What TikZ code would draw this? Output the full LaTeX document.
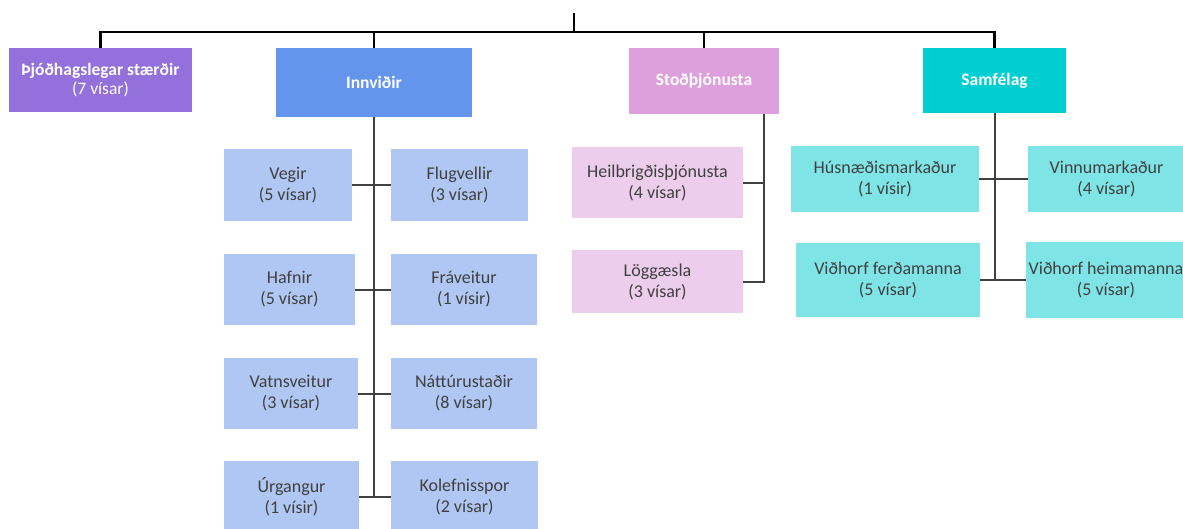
\documentclass[tikz,border=0pt]{standalone}
\usepackage{fontspec}
\setmainfont{Carlito}
\definecolor{cthj}{HTML}{9370DB}
\definecolor{cinn}{HTML}{6495ED}
\definecolor{csto}{HTML}{DDA0DD}
\definecolor{csam}{HTML}{00CED1}
\definecolor{linn}{HTML}{AFC7F2}
\definecolor{lsto}{HTML}{EDCDEC}
\definecolor{lsam}{HTML}{7FE4E6}
\definecolor{txt}{HTML}{404040}
\definecolor{lin}{HTML}{404040}
\tikzset{
  topbox/.style={draw=none, inner sep=0pt, align=center, text=white, font=\fontsize{17.5}{19}\selectfont},
  subbox/.style={draw=none, inner sep=0pt, align=center, text=txt, font=\fontsize{18}{21}\selectfont},
  topline/.style={line width=2.5pt, draw=black},
  subline/.style={line width=2pt, draw=lin}
}
\begin{document}
\begin{tikzpicture}[x=1pt,y=-1pt]
\useasboundingbox (0,0) rectangle (1183,528);
% top level
\coordinate (root) at (574,13);
\node[topbox, fill=cthj, minimum width=183, minimum height=64] (thj) at (100.5,80) {\textbf{Þjóðhagslegar stærðir}\\(7 vísar)};
\node[topbox, fill=cinn, minimum width=196, minimum height=69] (inn) at (374,82.5) {\textbf{Innviðir}};
\node[topbox, fill=csto, minimum width=150, minimum height=66] (sto) at (704,81) {\textbf{Stoðþjónusta}};
\node[topbox, fill=csam, minimum width=143, minimum height=65] (sam) at (994.5,80.5) {\textbf{Samfélag}};
\coordinate (bar) at (574,32);
\draw[topline] (root) -- (bar);
\draw[topline] (thj.north) -- (thj.north |- bar) -- (sam.north |- bar) -- (sam.north);
\draw[topline] (inn.north) -- (inn.north |- bar);
\draw[topline] (sto.north) -- (sto.north |- bar);
% Innvidir
\node[subbox, fill=linn, minimum width=128, minimum height=72] (veg) at (288,185) {Vegir\\(5 vísar)};
\node[subbox, fill=linn, minimum width=137, minimum height=72] (flu) at (459.5,185) {Flugvellir\\(3 vísar)};
\node[subbox, fill=linn, minimum width=131, minimum height=71] (haf) at (289.5,289.5) {Hafnir\\(5 vísar)};
\node[subbox, fill=linn, minimum width=146, minimum height=71] (fra) at (464,289.5) {Fráveitur\\(1 vísir)};
\node[subbox, fill=linn, minimum width=134, minimum height=71] (vat) at (291,393.5) {Vatnsveitur\\(3 vísar)};
\node[subbox, fill=linn, minimum width=146, minimum height=71] (nat) at (464,393.5) {Náttúrustaðir\\(8 vísar)};
\node[subbox, fill=linn, minimum width=135, minimum height=71] (urg) at (291.5,496.5) {Úrgangur\\(1 vísir)};
\node[subbox, fill=linn, minimum width=147, minimum height=71] (kol) at (464.5,496.5) {Kolefnisspor\\(2 vísar)};
\draw[subline] (inn.south) -- (inn.south |- urg.east);
\draw[subline] (veg.east) -- (flu.west);
\draw[subline] (haf.east) -- (fra.west);
\draw[subline] (vat.east) -- (nat.west);
\draw[subline] (urg.east) -- (kol.west);
% Stodthjonusta
\node[subbox, fill=lsto, minimum width=171, minimum height=71] (hei) at (657.5,182.5) {Heilbrigðisþjónusta\\(4 vísar)};
\node[subbox, fill=lsto, minimum width=171, minimum height=63] (log) at (657.5,281.5) {Löggæsla\\(3 vísar)};
\coordinate (stoc) at ([xshift=-15pt]sto.south east);
\draw[subline] (stoc) -- (stoc |- log.east) -- (log.east);
\draw[subline] (hei.east) -- (stoc |- hei.east);
% Samfelag
\node[subbox, fill=lsam, minimum width=188, minimum height=66] (hus) at (885,179) {Húsnæðismarkaður\\(1 vísir)};
\node[subbox, fill=lsam, minimum width=157, minimum height=66] (vin) at (1106.5,179) {Vinnumarkaður\\(4 vísar)};
\node[subbox, fill=lsam, minimum width=184, minimum height=74] (fer) at (888,280) {Viðhorf ferðamanna\\(5 vísar)};
\node[subbox, fill=lsam, minimum width=160, minimum height=76] (hem) at (1106,280) {Viðhorf heimamanna\\(5 vísar)};
\draw[subline] (sam.south) -- (sam.south |- fer.east);
\draw[subline] (hus.east) -- (vin.west);
\draw[subline] (fer.east) -- (hem.west);
\end{tikzpicture}
\end{document}
